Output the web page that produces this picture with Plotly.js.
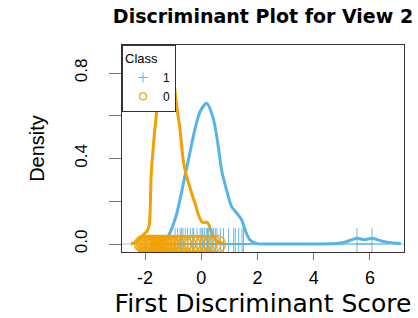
<!DOCTYPE html>
<html>
<head>
<meta charset="utf-8">
<script src="https://cdn.plot.ly/plotly-3.0.1.min.js"></script>
<style>html,body{margin:0;padding:0;background:#fff;}#chart{width:418px;height:318px;}</style>
</head>
<body>
<div id="chart"></div>
<script>
// Density curve of class 1 (blue)
const dens1X = [-1.82, -1.47, -1.18, -0.9, -0.58, -0.40, -0.22, -0.04, 0.19, 0.42, 0.60, 0.73, 0.905, 1.08, 1.26, 1.44, 1.56, 1.73, 1.97, 2.3, 3.0, 4.0, 4.8, 5.1, 5.35, 5.54, 5.8, 6.07, 6.3, 6.6, 6.9, 7.1];
const dens1Y = [0.0, 0.005, 0.037, 0.13, 0.32, 0.43, 0.54, 0.62, 0.658, 0.59, 0.46, 0.34, 0.25, 0.175, 0.145, 0.112, 0.065, 0.019, 0.002, 0.0, 0.0, 0.0, 0.002, 0.008, 0.02, 0.027, 0.02, 0.027, 0.018, 0.008, 0.003, 0.002];
// Density curve of class 0 (orange)
const dens0X = [-2.5, -2.3, -2.15, -2.05, -1.93, -1.85, -1.82, -1.80, -1.78, -1.73, -1.67, -1.58, -1.48, -1.38, -1.25, -1.1, -0.97, -0.86, -0.76, -0.65, -0.55, -0.42, -0.3, -0.22, -0.1, 0.02, 0.1, 0.19, 0.27, 0.35, 0.45, 0.6, 0.8];
const dens0Y = [0.0, 0.01, 0.03, 0.045, 0.06, 0.09, 0.15, 0.25, 0.33, 0.42, 0.51, 0.63, 0.76, 0.88, 0.95, 0.9, 0.76, 0.63, 0.54, 0.40, 0.33, 0.27, 0.22, 0.19, 0.136, 0.104, 0.1, 0.102, 0.09, 0.06, 0.03, 0.01, 0.0];
// Individual scores
const class1Scores = [-0.93, -0.84, -0.75, -0.7, -0.65, -0.57, -0.49, -0.39, -0.3, -0.27, -0.15, -0.04, 0.02, 0.05, 0.11, 0.18, 0.22, 0.26, 0.32, 0.38, 0.44, 0.5, 0.56, 0.68, 0.79, 0.97, 1.15, 1.21, 1.33, 1.45, 1.5, 5.54, 6.07];
const class0Scores = [-2.07, -2.0, -1.95, -1.9, -1.86, -1.82, -1.78, -1.74, -1.7, -1.66, -1.62, -1.58, -1.53, -1.48, -1.43, -1.38, -1.33, -1.28, -1.22, -1.15, -1.08, -1.0, -0.9, -0.78, -0.65, -0.5, -0.35, -0.2, -0.05, 0.1, 0.25, 0.4, 0.56];
const classNames = ['1', '0'];
const xTickVals = [-2, 0, 2, 4, 6];
const xTickText = ['-2', '0', '2', '4', '6'];
const yTickVals = [0, 0.2, 0.4, 0.6, 0.8];
const yTickText = ['0.0', '', '0.4', '', '0.8'];

const BLUE = '#56B4E9';
const ORANGE = '#F2A100';

const traces = [
  {x: dens1X, y: dens1Y, type: 'scatter', mode: 'lines', line: {color: BLUE, width: 3, shape: 'spline', smoothing: 0.8}, showlegend: false, hoverinfo: 'skip'},
  {x: dens0X, y: dens0Y, type: 'scatter', mode: 'lines', line: {color: ORANGE, width: 3, shape: 'spline', smoothing: 0.8}, showlegend: false, hoverinfo: 'skip'},
  {x: class1Scores, y: class1Scores.map(() => 0), type: 'scatter', mode: 'markers', showlegend: false,
   marker: {symbol: 'cross-thin-open', size: 23, color: BLUE, opacity: 0.9, line: {color: BLUE, width: 1}}},
  {x: class0Scores, y: class0Scores.map(() => 0), type: 'scatter', mode: 'markers', showlegend: false,
   marker: {symbol: 'circle-open', size: 17, color: ORANGE, opacity: 0.9, line: {color: ORANGE, width: 1.5}}},
  // legend entries
  {x: [null], y: [null], type: 'scatter', mode: 'markers', name: classNames[0],
   marker: {symbol: 'cross-thin-open', size: 7, color: BLUE, line: {color: BLUE, width: 1}}},
  {x: [null], y: [null], type: 'scatter', mode: 'markers', name: classNames[1],
   marker: {symbol: 'circle-open', size: 7, color: ORANGE, line: {color: ORANGE, width: 1.2}}}
];

const layout = {
  width: 418, height: 318,
  margin: {l: 122, r: 14, t: 45, b: 66, pad: 0},
  paper_bgcolor: '#fff', plot_bgcolor: '#fff',
  font: {family: 'Liberation Sans, Arial, sans-serif', color: '#000'},
  title: {text: 'Discriminant Plot for View 2', font: {family: 'DejaVu Sans', size: 19, weight: 'bold', color: '#000'},
          xref: 'paper', x: 0.5, xanchor: 'center', yref: 'container', y: 0.95, yanchor: 'middle'},
  xaxis: {range: [-2.82, 7.21], tickvals: xTickVals, ticktext: xTickText, showgrid: false, zeroline: false,
          showline: true, mirror: true, linecolor: '#333', linewidth: 1,
          ticks: 'outside', ticklen: 7, tickcolor: '#777', tickwidth: 1, ticklabelstandoff: 2,
          tickfont: {family: 'Liberation Sans', size: 18, color: '#000'},
          title: {text: 'First Discriminant Score', font: {family: 'DejaVu Sans', size: 25, color: '#000'}, standoff: 12}},
  yaxis: {range: [-0.0374, 0.931], tickvals: yTickVals, ticktext: yTickText, showgrid: false, zeroline: false,
          showline: true, mirror: true, linecolor: '#333', linewidth: 1,
          ticks: 'outside', ticklen: 12, tickcolor: '#777', tickwidth: 1, tickangle: -90,
          ticklabelstandoff: 15,
          tickfont: {family: 'Liberation Sans', size: 17, color: '#000'},
          title: {text: 'Density', font: {family: 'Liberation Sans', size: 20, color: '#000'}, standoff: 22}},
  legend: {title: {text: 'Class', font: {family: 'Liberation Sans', size: 13, color: '#000'}},
           x: 0, xanchor: 'left', y: 1, yanchor: 'top', bgcolor: '#fff', bordercolor: '#333', borderwidth: 1,
           font: {family: 'Liberation Sans', size: 12, color: '#000'}, tracegroupgap: 0, itemwidth: 30},
  shapes: [{type: 'line', xref: 'paper', x0: 0, x1: 1, yref: 'y', y0: 0, y1: 0, line: {color: 'rgba(86,180,233,0.6)', width: 1}, layer: 'below'}]
};

Plotly.newPlot('chart', traces, layout, {displayModeBar: false, staticPlot: true});
</script>
</body>
</html>
